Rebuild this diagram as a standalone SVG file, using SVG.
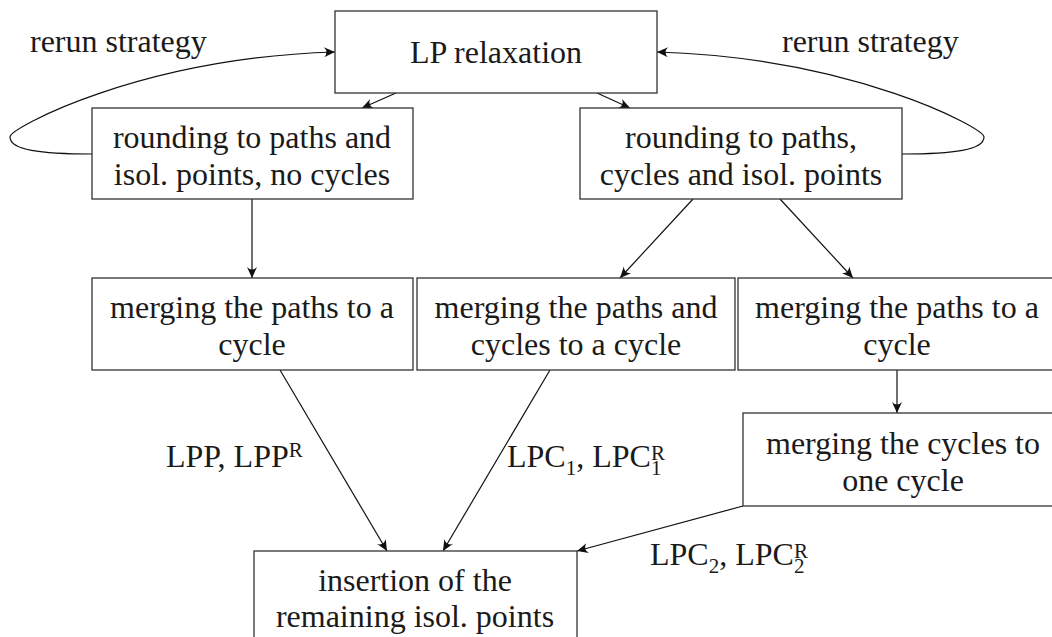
<svg xmlns="http://www.w3.org/2000/svg" width="1052" height="637" viewBox="0 0 1052 637">
<style>
text{font-family:"Liberation Serif","Times New Roman",serif;font-size:32px;fill:#1a1a1a}
.c{text-anchor:middle}
.s{font-size:21px}
.box{fill:#fff;stroke:#333;stroke-width:1.3}
.e{fill:none;stroke:#111;stroke-width:1.2}
</style>
<defs>
<marker id="ah" markerUnits="userSpaceOnUse" markerWidth="14" markerHeight="12" viewBox="-12 -6 14 12" refX="0" refY="0" orient="auto">
<path d="M0,0 L-11,-5 Q-6,0 -11,5 Z" fill="#111"/>
</marker>
</defs>
<g id="connectors">
<path class="e" d="M92,154 C40,154 10,150 10,137 C10,128 140,58 335,52" marker-end="url(#ah)"/>
<path class="e" d="M902,154 C954,154 984,150 984,137 C984,128 854,58 657,52" marker-end="url(#ah)"/>
<line class="e" x1="396" y1="93" x2="362" y2="108" marker-end="url(#ah)"/>
<line class="e" x1="597" y1="93" x2="630" y2="108" marker-end="url(#ah)"/>
<line class="e" x1="252" y1="199" x2="252" y2="278" marker-end="url(#ah)"/>
<line class="e" x1="693" y1="199" x2="620" y2="278" marker-end="url(#ah)"/>
<line class="e" x1="780" y1="199" x2="853" y2="278" marker-end="url(#ah)"/>
<line class="e" x1="897" y1="370" x2="897" y2="413" marker-end="url(#ah)"/>
<line class="e" x1="280" y1="370" x2="387" y2="551" marker-end="url(#ah)"/>
<line class="e" x1="550" y1="370" x2="443" y2="551" marker-end="url(#ah)"/>
<line class="e" x1="743" y1="506" x2="577" y2="551" marker-end="url(#ah)"/>
<text x="30" y="52">rerun strategy</text>
<text x="782" y="52">rerun strategy</text>
<text x="166" y="467">LPP, LPP<tspan class="s" dy="-10">R</tspan></text>
<text x="507" y="467">LPC<tspan class="s" dy="8">1</tspan><tspan dy="-8">, LPC</tspan><tspan class="s" dy="8">1</tspan><tspan class="s" dx="-10.5" dy="-15">R</tspan></text>
<text x="650" y="565">LPC<tspan class="s" dy="8">2</tspan><tspan dy="-8">, LPC</tspan><tspan class="s" dy="8">2</tspan><tspan class="s" dx="-10.5" dy="-15">R</tspan></text>
</g>
<g id="lp">
<rect class="box" x="335" y="11" width="322" height="82"/>
<text class="c" x="496" y="63">LP relaxation</text>
</g>
<g id="round1">
<rect class="box" x="92" y="108" width="321" height="91"/>
<text class="c" x="252" y="148">rounding to paths and</text>
<text class="c" x="252" y="185">isol. points, no cycles</text>
</g>
<g id="round2">
<rect class="box" x="580" y="108" width="322" height="91"/>
<text class="c" x="741" y="148">rounding to paths,</text>
<text class="c" x="741" y="185">cycles and isol. points</text>
</g>
<g id="merge1">
<rect class="box" x="92" y="278" width="321" height="92"/>
<text class="c" x="252" y="318">merging the paths to a</text>
<text class="c" x="252" y="355">cycle</text>
</g>
<g id="merge2">
<rect class="box" x="417" y="278" width="318" height="92"/>
<text class="c" x="576" y="318">merging the paths and</text>
<text class="c" x="576" y="355">cycles to a cycle</text>
</g>
<g id="merge3">
<rect class="box" x="738" y="278" width="320" height="92"/>
<text class="c" x="897" y="318">merging the paths to a</text>
<text class="c" x="897" y="355">cycle</text>
</g>
<g id="mergecycles">
<rect class="box" x="743" y="413" width="320" height="93"/>
<text class="c" x="903" y="454">merging the cycles to</text>
<text class="c" x="903" y="491">one cycle</text>
</g>
<g id="insertion">
<rect class="box" x="254" y="551" width="323" height="100"/>
<text class="c" x="415" y="591">insertion of the</text>
<text class="c" x="415" y="627">remaining isol. points</text>
</g>
</svg>
